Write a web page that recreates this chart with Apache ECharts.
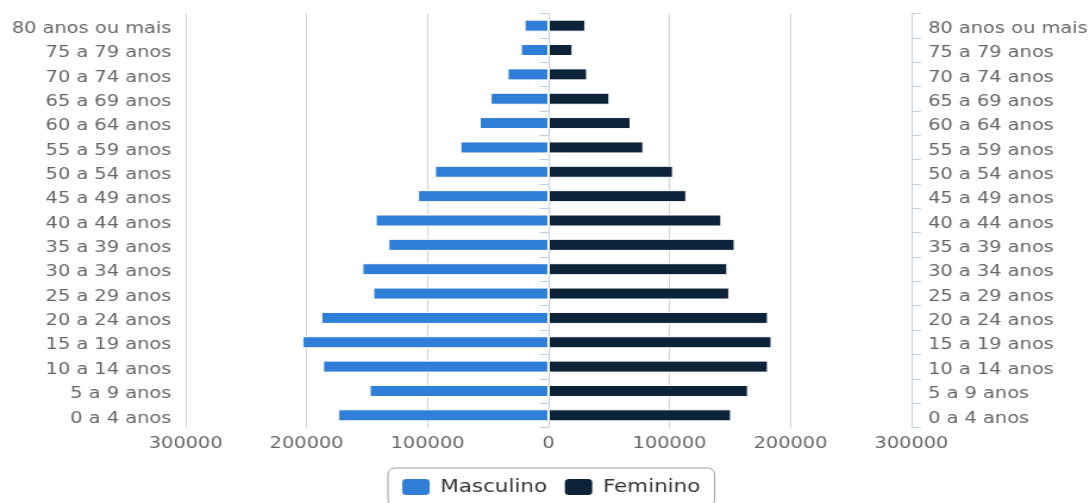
<!DOCTYPE html>
<html>
<head>
<meta charset="utf-8">
<title>Pirâmide etária</title>
<script src="https://cdn.jsdelivr.net/npm/echarts@6/dist/echarts.min.js"></script>
<style>
  html, body { margin: 0; padding: 0; background: #fff; overflow: hidden; }
  /* chart is laid out at a narrower width and widened horizontally */
  #chart { width: 917px; height: 503px; transform: scaleX(1.19); transform-origin: 0 0; }
</style>
</head>
<body>
<div id="chart"></div>
<script>
// Age groups, oldest at the top
const categories = [
  '80 anos ou mais', '75 a 79 anos', '70 a 74 anos', '65 a 69 anos',
  '60 a 64 anos', '55 a 59 anos', '50 a 54 anos', '45 a 49 anos',
  '40 a 44 anos', '35 a 39 anos', '30 a 34 anos', '25 a 29 anos',
  '20 a 24 anos', '15 a 19 anos', '10 a 14 anos', '5 a 9 anos', '0 a 4 anos'
];

// Population per age group
const masculino = [
  20000, 23000, 34000, 48000, 57000, 73000, 94000, 108000,
  143000, 132500, 154000, 145000, 188000, 203500, 186500, 148000, 174000
];
const feminino = [
  30500, 20000, 32000, 50500, 68000, 78500, 103000, 114000,
  143000, 154000, 148000, 149500, 181500, 184500, 181500, 165000, 151000
];

// Value axis ticks
const axisMin = -300000;
const axisMax = 300000;
const axisStep = 100000;

const labelFont = 'DejaVu Sans, Verdana, sans-serif';

const chart = echarts.init(document.getElementById('chart'), null, { renderer: 'canvas' });

const catAxis = (position, margin) => ({
  type: 'category',
  position: position,
  data: categories,
  inverse: true,
  axisLine: { show: true, lineStyle: { color: '#c0d0e0', width: 1 } },
  axisTick: { show: true, length: 8, lineStyle: { color: '#c0d0e0' } },
  axisLabel: {
    margin: margin,
    formatter: v => '{t|' + v + '}',
    rich: {
      t: { color: '#666', fontSize: 16.3, fontFamily: labelFont, padding: [6, 0, 0, 0] }
    }
  },
  splitLine: { show: false }
});

chart.setOption({
  animation: false,
  grid: { left: 156, right: 151, top: 13.5, bottom: 75.5, containLabel: false },
  legend: {
    data: ['Masculino', 'Feminino'],
    top: 468,
    left: 326,
    icon: 'roundRect',
    itemWidth: 25,
    itemHeight: 18,
    itemGap: 13,
    padding: [9, 12, 9, 10],
    borderColor: '#999',
    borderWidth: 1,
    borderRadius: 6,
    textStyle: { color: '#333', fontSize: 18, fontFamily: labelFont, padding: [0, 0, 0, 3] }
  },
  xAxis: {
    type: 'value',
    min: axisMin,
    max: axisMax,
    interval: axisStep,
    axisLine: { show: false },
    axisTick: { show: false },
    axisLabel: {
      color: '#666', fontSize: 16.3, fontFamily: labelFont, margin: 8,
      formatter: v => String(Math.abs(v))
    },
    splitLine: { show: true, lineStyle: { color: '#d2d2d2', width: 1 } }
  },
  yAxis: [catAxis('left', 12), catAxis('right', 14)],
  series: [
    {
      name: 'Masculino',
      type: 'bar',
      stack: 'populacao',
      yAxisIndex: 0,
      barWidth: 12,
      itemStyle: { color: '#2f7ed8', borderColor: '#fff', borderWidth: 1 },
      data: masculino.map(v => -v)
    },
    {
      name: 'Feminino',
      type: 'bar',
      stack: 'populacao',
      yAxisIndex: 0,
      barWidth: 12,
      itemStyle: { color: '#0d233a', borderColor: '#fff', borderWidth: 1 },
      data: feminino
    }
  ]
});
</script>
</body>
</html>
